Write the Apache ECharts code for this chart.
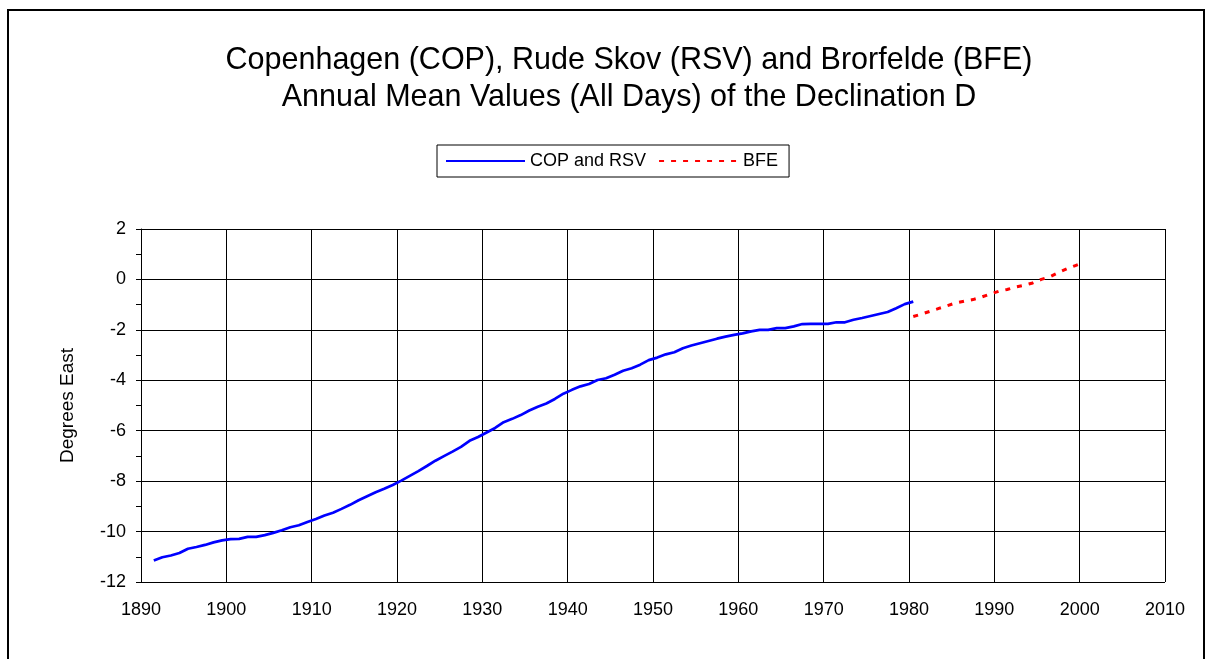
<!DOCTYPE html>
<html>
<head>
<meta charset="utf-8">
<script src="https://cdn.jsdelivr.net/npm/echarts@6/dist/echarts.min.js"></script>
<style>
html,body{margin:0;padding:0;background:#fff;}
#chart{width:1210px;height:659px;}
</style>
</head>
<body>
<div id="chart"></div>
<script>
// Annual means plotted at mid-year
var copYears = [];
for (var y = 1891; y <= 1980; y++) copYears.push(y + 0.5);
var copValues = [
 -11.15,-11.02,-10.95,-10.85,-10.68,-10.61,-10.53,-10.43,-10.35,
 -10.30,-10.29,-10.21,-10.21,-10.14,-10.05,-9.95,-9.83,-9.75,-9.62,
 -9.50,-9.36,-9.25,-9.10,-8.94,-8.76,-8.60,-8.44,-8.30,-8.15,
 -7.98,-7.79,-7.60,-7.40,-7.19,-7.01,-6.83,-6.64,-6.40,-6.25,
 -6.07,-5.89,-5.66,-5.53,-5.38,-5.20,-5.05,-4.92,-4.74,-4.53,
 -4.38,-4.24,-4.15,-3.99,-3.92,-3.78,-3.62,-3.52,-3.38,-3.20,
 -3.10,-2.97,-2.89,-2.73,-2.62,-2.53,-2.44,-2.35,-2.27,-2.20,
 -2.14,-2.06,-2.00,-2.00,-1.93,-1.93,-1.86,-1.77,-1.76,-1.76,
 -1.76,-1.70,-1.70,-1.60,-1.53,-1.45,-1.37,-1.29,-1.14,-0.98,
 -0.88
];
var bfeYears = [];
for (var y2 = 1980; y2 <= 2000; y2++) bfeYears.push(y2 + 0.5);
var bfeValues = [
 -1.47,-1.37,-1.26,-1.15,-1.04,-0.93,-0.86,-0.80,-0.70,-0.58,
 -0.47,-0.40,-0.30,-0.23,-0.14,0.00,0.10,0.27,0.42,0.55,0.68
];
var titleLine1 = 'Copenhagen (COP), Rude Skov (RSV) and Brorfelde (BFE)';
var titleLine2 = 'Annual Mean Values (All Days) of the Declination D';
var seriesNames = ['COP and RSV', 'BFE'];
var yAxisName = 'Degrees East';

function pairs(xs, ys){ return xs.map(function(x,i){ return [x, ys[i]]; }); }

var FONT = 'Liberation Sans, Arial, sans-serif';
var chart = echarts.init(document.getElementById('chart'), null, {renderer:'canvas'});
chart.setOption({
  animation: false,
  backgroundColor: '#ffffff',
  textStyle: {fontFamily: FONT},
  graphic: [
    {type:'rect', shape:{x:8, y:10, width:1196, height:700}, style:{fill:'none', stroke:'#000', lineWidth:2}, silent:true, z:-1},
    {type:'text', x:629, y:61, style:{text:titleLine1, fontSize:30.5, fontFamily:FONT, fill:'#000', textAlign:'center', textVerticalAlign:'middle'}},
    {type:'text', x:629, y:98, style:{text:titleLine2, fontSize:30.5, fontFamily:FONT, fill:'#000', textAlign:'center', textVerticalAlign:'middle'}}
  ],
  legend: {
    left: 437, top: 145,
    data: seriesNames,
    itemWidth: 79, itemHeight: 16, itemGap: 12,
    padding: [7, 11, 7, 8],
    borderColor: '#000', borderWidth: 1,
    backgroundColor: '#fff',
    itemStyle: {opacity: 0},
    textStyle: {fontSize: 18, color: '#000', fontFamily: FONT}
  },
  grid: {left: 141, top: 229, width: 1024, height: 353, containLabel: false},
  xAxis: {
    type: 'value', min: 1890, max: 2010, interval: 10,
    axisLine: {show: true, lineStyle: {color: '#000', width: 1}},
    axisTick: {show: true, length: 5, lineStyle: {color: '#000'}},
    axisLabel: {fontSize: 18, color: '#000', margin: 19, fontFamily: FONT,
      formatter: function(v){ return String(v); }},
    splitLine: {show: true, lineStyle: {color: '#000', width: 1}}
  },
  yAxis: {
    type: 'value', min: -12, max: 2, interval: 2,
    name: yAxisName, nameLocation: 'middle', nameGap: 64,
    nameTextStyle: {fontSize: 19, color: '#000', fontFamily: FONT},
    axisLine: {show: true, lineStyle: {color: '#000', width: 1}},
    axisTick: {show: true, length: 5, lineStyle: {color: '#000'}},
    minorTick: {show: true, splitNumber: 2, length: 5, lineStyle: {color: '#000'}},
    axisLabel: {fontSize: 18, color: '#000', margin: 15, fontFamily: FONT},
    splitLine: {show: true, lineStyle: {color: '#000', width: 1}}
  },
  series: [
    {name: seriesNames[0], type: 'line', data: pairs(copYears, copValues), showSymbol: false, symbol: 'none',
     lineStyle: {color: '#0000ff', width: 2.7}, itemStyle: {color: '#0000ff'}},
    {name: seriesNames[1], type: 'line', data: pairs(bfeYears, bfeValues), showSymbol: false, symbol: 'none',
     lineStyle: {color: '#ff0000', width: 3, type: [5, 7]}, itemStyle: {color: '#ff0000'}}
  ]
});
</script>
</body>
</html>
